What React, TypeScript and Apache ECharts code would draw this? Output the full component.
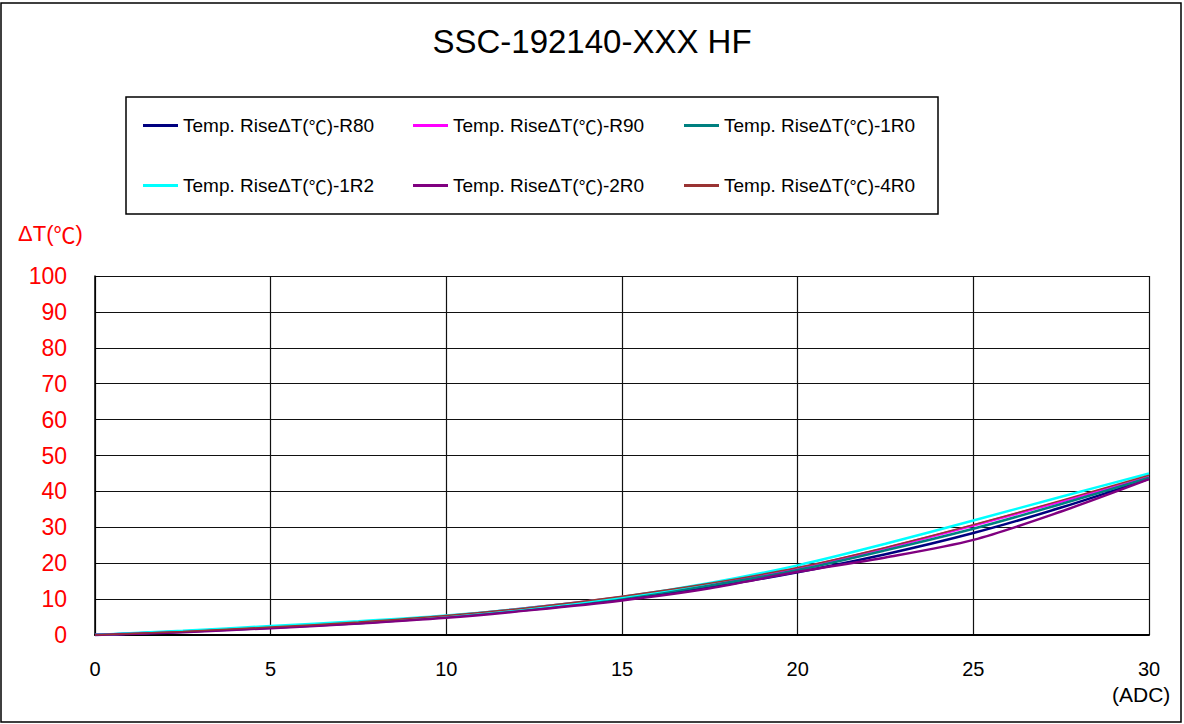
import React, { useEffect, useRef } from "react";
import * as echarts from "echarts";

const xValues = [0, 2.5, 5, 7.5, 10, 12.5, 15, 17.5, 20, 22.5, 25, 27.5, 30];
const seriesNames = [
  "Temp. RiseΔT(℃)-R80",
  "Temp. RiseΔT(℃)-R90",
  "Temp. RiseΔT(℃)-1R0",
  "Temp. RiseΔT(℃)-1R2",
  "Temp. RiseΔT(℃)-2R0",
  "Temp. RiseΔT(℃)-4R0",
];
const r80 = [0, 0.9, 2.0, 3.3, 5.0, 7.2, 9.9, 13.3, 17.5, 22.5, 28.4, 35.5, 43.5];
const r90 = [0, 1.0, 2.2, 3.6, 5.3, 7.7, 10.6, 14.2, 18.6, 24.2, 30.5, 37.2, 44.0];
const v1r0 = [0, 1.0, 2.2, 3.5, 5.2, 7.5, 10.3, 13.8, 18.1, 23.6, 29.6, 36.5, 43.8];
const v1r2 = [0, 1.2, 2.5, 3.8, 5.4, 7.7, 10.6, 14.5, 19.4, 25.4, 31.9, 38.5, 45.0];
const v2r0 = [0, 0.8, 1.9, 3.2, 4.8, 7.0, 9.6, 13.0, 17.6, 21.6, 26.5, 34.4, 43.4];
const v4r0 = [0, 1.0, 2.2, 3.6, 5.4, 7.8, 10.8, 14.4, 18.8, 24.4, 30.7, 37.5, 44.5];
const seriesValues = [r80, r90, v1r0, v1r2, v2r0, v4r0];
const seriesColors = ["#000080", "#ff00ff", "#008080", "#00ffff", "#800080", "#993333"];
const seriesWidths = [2.5, 2.5, 2.5, 2.5, 2.5, 1.5];

const yTicks = [0, 10, 20, 30, 40, 50, 60, 70, 80, 90, 100];
const xTicks = [0, 5, 10, 15, 20, 25, 30];

const FONT = "'Liberation Sans', Arial, sans-serif";
const CJK = "'Noto Sans CJK SC', sans-serif";

const withCjk = (s: string) => s.replace("℃", "{c|℃}");

export default function App() {
  const ref = useRef<HTMLDivElement>(null);
  useEffect(() => {
    if (!ref.current) return;
    const chart = echarts.init(ref.current, null, { renderer: "svg" });
    const legendPos = [
      { left: 143, top: 116 },
      { left: 413, top: 116 },
      { left: 684, top: 116 },
      { left: 143, top: 176 },
      { left: 413, top: 176 },
      { left: 684, top: 176 },
    ];
    chart.setOption({
      animation: false,
      backgroundColor: "#ffffff",
      title: {
        text: "SSC-192140-XXX HF",
        left: "center",
        top: 20,
        textStyle: { fontFamily: FONT, fontSize: 33, fontWeight: "normal", color: "#000" },
      },
      legend: seriesNames.map((n, i) => ({
        data: [n],
        left: legendPos[i].left,
        top: legendPos[i].top,
        itemWidth: 35,
        itemHeight: 3,
        itemGap: 5,
        icon: "rect",
        formatter: (name: string) => withCjk(name),
        textStyle: {
          fontFamily: FONT,
          fontSize: 19,
          color: "#000",
          rich: { c: { fontFamily: CJK, fontSize: 18, color: "#000" } },
        },
        padding: 0,
      })),
      grid: { left: 95, top: 276, right: 35, bottom: 89 },
      xAxis: {
        type: "value",
        min: 0,
        max: 30,
        interval: 5,
        axisLine: { show: true, lineStyle: { color: "#000", width: 2 } },
        axisTick: { show: false },
        splitLine: { show: true, lineStyle: { color: "#111", width: 1.2 } },
        axisLabel: {
          fontFamily: FONT,
          fontSize: 20,
          color: "#000",
          margin: 24,
          formatter: (v: number) => (xTicks.includes(v) ? String(v) : ""),
        },
      },
      yAxis: {
        type: "value",
        min: 0,
        max: 100,
        interval: 10,
        axisLine: { show: true, lineStyle: { color: "#000", width: 1.5 } },
        axisTick: { show: true, inside: true, length: 5, lineStyle: { color: "#000" } },
        splitLine: { show: true, lineStyle: { color: "#111", width: 1.2 } },
        axisLabel: {
          fontFamily: FONT,
          fontSize: 23,
          color: "#ff0000",
          margin: 28,
          formatter: (v: number) => (yTicks.includes(v) ? String(v) : ""),
        },
      },
      series: seriesNames.map((n, i) => ({
        name: n,
        type: "line",
        smooth: 0.3,
        showSymbol: false,
        symbol: "none",
        data: xValues.map((x, j) => [x, seriesValues[i][j]]),
        lineStyle: { color: seriesColors[i], width: seriesWidths[i] },
        itemStyle: { color: seriesColors[i] },
        z: 2 + i,
      })),
      graphic: [
        {
          type: "rect",
          shape: { x: 1, y: 3, width: 1180, height: 719 },
          style: { fill: "none", stroke: "#000", lineWidth: 1.5 },
          silent: true,
        },
        {
          type: "rect",
          shape: { x: 126, y: 97, width: 812, height: 117 },
          style: { fill: "none", stroke: "#000", lineWidth: 1.5 },
          silent: true,
        },
        {
          type: "text",
          left: 18,
          top: 222,
          style: {
            text: "ΔT({c|℃})",
            font: `22px ${FONT}`,
            fill: "#ff0000",
            rich: { c: { fontFamily: CJK, fontSize: 22, fill: "#ff0000", color: "#ff0000" } },
          },
        },
        {
          type: "text",
          left: 1112,
          top: 684,
          style: { text: "(ADC)", font: `21px ${FONT}`, fill: "#000" },
        },
      ],
    });
    return () => chart.dispose();
  }, []);
  return (
    <div
      ref={ref}
      style={{ position: "fixed", left: 0, top: 0, width: 1184, height: 724 }}
    />
  );
}
